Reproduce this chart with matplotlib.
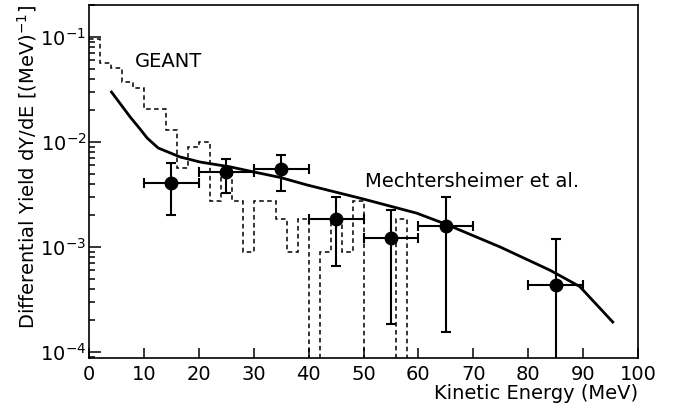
import numpy as np
import matplotlib
matplotlib.use("Agg")
import matplotlib.pyplot as plt

plt.rcParams['font.family'] = ['DejaVu Sans']
plt.rcParams['mathtext.fontset'] = 'dejavusans'

# Data points (measured)
pt_x = [15, 25, 35, 45, 55, 65, 85]
pt_y = [4.1e-3, 5.2e-3, 5.5e-3, 1.85e-3, 1.22e-3, 1.58e-3, 4.35e-4]
pt_y_hi = [6.3e-3, 6.9e-3, 7.5e-3, 3.0e-3, 2.25e-3, 3.0e-3, 1.2e-3]
pt_y_lo = [2.0e-3, 3.3e-3, 3.4e-3, 6.6e-4, 1.85e-4, 1.55e-4, 5.0e-5]
pt_x_lo = [10, 20, 30, 40, 50, 60, 80]
pt_x_hi = [20, 30, 40, 50, 60, 70, 90]

# Mechtersheimer et al. curve
curve_x = [4.1, 5.6, 7.5, 9.0, 10.6, 12.6, 16.6, 20.2, 25.7, 29.9, 34.8, 39.7,
           49.9, 59.7, 65.0, 74.9, 84.0, 89.4, 95.4]
curve_y = [2.99e-2, 2.35e-2, 1.73e-2, 1.39e-2, 1.09e-2, 8.77e-3, 7.2e-3, 6.45e-3,
           5.8e-3, 5.2e-3, 4.6e-3, 3.9e-3, 2.87e-3, 2.1e-3, 1.65e-3, 1.0e-3,
           6.0e-4, 4.2e-4, 1.93e-4]

# GEANT histogram (2 MeV bins)
geant_edges = [0, 2, 4, 6, 8, 10, 12, 14, 16, 18, 20, 22, 24, 26, 28, 30, 32,
               34, 36, 38, 40, 42, 44, 46, 48, 50, 52, 54, 56, 58, 60]
geant_vals = [0.095, 0.056, 0.0505, 0.037, 0.033, 0.0204, 0.0204, 0.013,
              5.6e-3, 9.0e-3, 1.01e-2, 2.74e-3, 5.0e-3, 2.74e-3, 9.0e-4,
              2.74e-3, 2.74e-3, 1.85e-3, 9.0e-4, 1.85e-3, 1e-9, 9.0e-4,
              1.85e-3, 9.0e-4, 2.74e-3, 1e-9, 1e-9, 1e-9, 1.85e-3, 1e-9]

fig = plt.figure(figsize=(6.84, 4.13), dpi=100)
ax = fig.add_axes([89/684, 1-358/413, (638-89)/684, (358-5)/413])
ax.set_yscale('log')
ax.set_xlim(0, 100)
ax.set_ylim(8.77e-5, 0.2017)

ax.stairs(geant_vals, geant_edges, baseline=None, color='black',
          linestyle=(0, (3.0, 2.2)), linewidth=1.1)
ax.plot(curve_x, curve_y, color='black', linewidth=2.0)

yerr = [np.array(pt_y) - np.array(pt_y_lo), np.array(pt_y_hi) - np.array(pt_y)]
xerr = [np.array(pt_x) - np.array(pt_x_lo), np.array(pt_x_hi) - np.array(pt_x)]
ax.errorbar(pt_x, pt_y, xerr=xerr, yerr=yerr, fmt='o', color='black',
            markersize=9, elinewidth=1.5, capsize=3.8, capthick=1.5)

ax.text(8.4, 0.058, 'GEANT', fontsize=14, va='center', ha='left')
ax.text(50.3, 4.2e-3, 'Mechtersheimer et al.', fontsize=14, va='center', ha='left')

ax.set_xticks(np.arange(0, 101, 10))
ax.tick_params(axis='both', which='both', direction='in', top=False, right=False,
               labelsize=14)
ax.tick_params(axis='x', which='major', length=7, width=1.1, pad=5)
ax.tick_params(axis='y', which='major', length=8.5, width=1.1, pad=2)
ax.tick_params(axis='y', which='minor', length=4.3, width=1.1)
for s in ax.spines.values():
    s.set_linewidth(1.2)

ax.set_xlabel('Kinetic Energy (MeV)', loc='right', fontsize=14, labelpad=0)
ax.set_ylabel(r'Differential Yield dY/dE [(MeV)$^{-1}$]', loc='top',
              fontsize=14, labelpad=1)

fig.savefig('out.png', dpi=100)
